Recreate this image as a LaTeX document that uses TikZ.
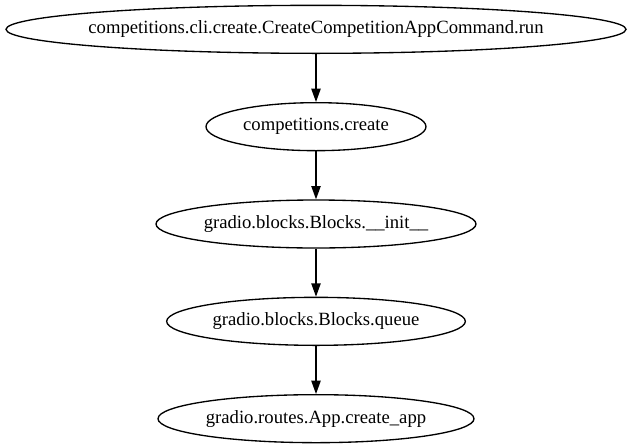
\documentclass[tikz,border=0pt]{standalone}
\usepackage{fontspec}
\setmainfont{Liberation Serif}
\usepackage{tikz}
\usetikzlibrary{arrows.meta,positioning,shapes.geometric}
\newcommand{\callname}[1]{\makebox[0pt]{#1}}

\begin{document}
\begin{tikzpicture}[line width=1pt,>={Triangle[length=10pt,width=7pt]},
  fn/.style={shape=ellipse,draw,inner sep=0pt,minimum height=36pt,font=\fontsize{14pt}{16pt}\selectfont},
  node distance=36pt]
\useasboundingbox (0,0) rectangle (473.25pt,-332.25pt);

\node[fn,minimum width=465pt] (a1) at (237pt,-22pt) {\callname{competitions.cli.create.CreateCompetitionAppCommand.run}};
\node[fn,minimum width=165pt,below=of a1] (a2) {\callname{competitions.create}};
\node[fn,minimum width=240pt,below=of a2] (a3) {\callname{gradio.blocks.Blocks.\_\_init\_\_}};
\node[fn,minimum width=224pt,below=of a3] (a4) {\callname{gradio.blocks.Blocks.queue}};
\node[fn,minimum width=237pt,below=of a4] (a5) {\callname{gradio.routes.App.create\_app}};

\draw[->,black] (a1) -- (a2);
\draw[->,black] (a2) -- (a3);
\draw[->,black] (a3) -- (a4);
\draw[->,black] (a4) -- (a5);
\end{tikzpicture}
\end{document}
